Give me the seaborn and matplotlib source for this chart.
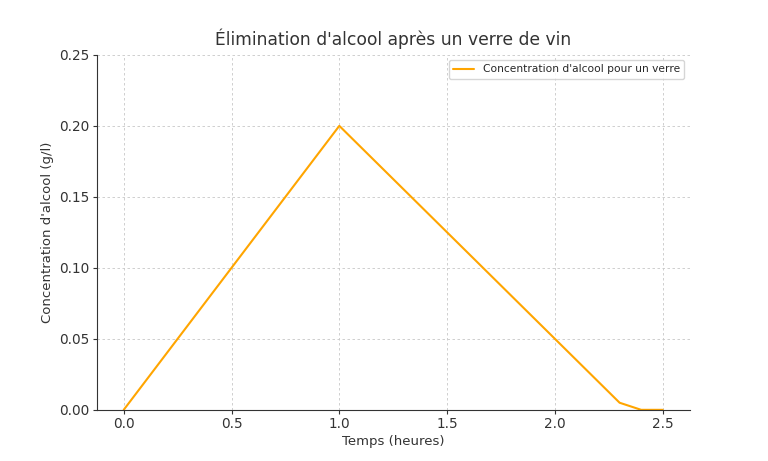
import pandas as pd
import matplotlib
matplotlib.use('Agg')
import matplotlib.pyplot as plt
import seaborn as sns

# Données : temps (heures) et concentration (g/l)
temps = [0.0, 1.0, 2.3, 2.4, 2.5]
concentration = [0.0, 0.20, 0.005, 0.0, 0.0]

df = pd.DataFrame({'temps': temps, 'concentration': concentration})

sns.set_style('whitegrid', {'axes.edgecolor': '#333333'})
plt.rcParams['font.family'] = ['DejaVu Sans']

fig, ax = plt.subplots(figsize=(7.68, 4.61), dpi=100)
fig.subplots_adjust(left=0.126, right=0.898, top=0.881, bottom=0.111)

sns.lineplot(x='temps', y='concentration', data=df, color='orange',
             linewidth=1.5, label="Concentration d'alcool pour un verre", ax=ax)

ax.set_ylim(0, 0.25)
ax.set_yticks([0, 0.05, 0.10, 0.15, 0.20, 0.25])
ax.yaxis.set_major_formatter(matplotlib.ticker.FormatStrFormatter('%.2f'))
ax.grid(True, linestyle=(0, (3, 3)), linewidth=0.6, color='#c8c8c8')
ax.set_title("Élimination d'alcool après un verre de vin", fontsize=12.3, color='#333333', pad=7)
ax.set_xlabel('Temps (heures)', color='#333333', fontsize=9.5, labelpad=3)
ax.set_ylabel("Concentration d'alcool (g/l)", color='#333333', fontsize=9.5, labelpad=4)
ax.tick_params(colors='#333333', labelsize=9.8, length=3, width=0.8, pad=2, left=True, bottom=True)
for s in ['top', 'right']:
    ax.spines[s].set_visible(False)
ax.legend(loc='upper right', fontsize=7.7)

plt.savefig('out.png')
